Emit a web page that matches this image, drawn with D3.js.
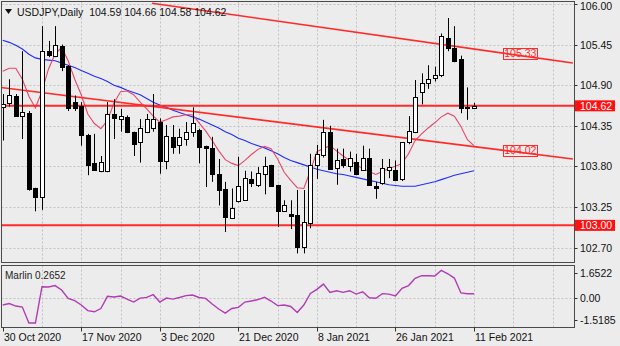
<!DOCTYPE html>
<html>
<head>
<meta charset="utf-8">
<script src="https://cdn.jsdelivr.net/npm/d3@7"></script>
<style>
  html, body { margin: 0; padding: 0; background: #ececec; }
  svg { display: block; font-family: "Liberation Sans", Arial, sans-serif; }
</style>
</head>
<body>
<svg id="chart" width="620" height="346"></svg>
<script>
// ---- USDJPY daily bars (30 Oct 2020 .. 11 Feb 2021), one entry per trading day ----
const symbolTitle = "USDJPY,Daily";
const lastQuote = [104.59, 104.66, 104.58, 104.62];

const open  = [104.61,104.66,104.75,104.48,104.52,103.50,103.39,105.36,105.30,105.43,
               105.16,104.67,104.62,104.22,103.85,103.73,103.73,104.51,104.44,104.47,
               104.27,104.13,104.27,104.32,104.40,103.87,104.20,104.09,104.17,104.27,
               104.29,104.07,104.05,103.70,103.49,103.10,103.33,103.34,103.63,103.55,
               103.70,103.82,103.55,103.19,103.15,103.14,102.71,103.03,103.82,103.95,
               104.26,103.78,103.90,103.81,103.86,103.75,103.91,103.54,103.57,103.75,
               103.75,103.63,104.13,104.26,104.81,104.93,105.00,105.04,105.54,105.40,
               105.25,104.61,104.59];
const high  = [104.78,104.98,104.78,105.36,104.55,103.51,105.70,105.50,105.70,105.45,
               105.17,104.76,104.67,104.24,104.24,103.94,104.67,104.71,104.58,104.49,
               104.27,104.44,104.51,104.78,104.45,104.36,104.36,104.31,104.40,104.60,
               104.31,104.08,104.20,103.90,103.59,103.50,103.93,103.74,103.73,103.79,
               103.93,103.82,103.55,103.34,103.34,103.48,103.48,103.97,104.09,104.43,
               104.35,104.04,104.04,104.00,103.97,104.08,104.04,103.59,103.90,103.90,
               103.88,104.13,104.48,104.97,105.06,105.17,105.15,105.60,105.81,105.70,
               105.30,104.87,104.66];
const low   = [104.15,104.61,104.47,104.17,103.47,103.19,103.21,105.28,105.28,105.09,
               104.55,104.55,104.08,103.68,103.74,103.72,103.72,104.17,104.27,104.25,
               103.94,103.85,104.25,104.27,103.70,103.76,103.97,103.97,104.08,104.20,
               103.84,103.52,103.59,103.27,102.91,103.10,103.31,103.34,103.52,103.52,
               103.42,103.53,102.98,103.18,102.95,102.62,102.62,102.96,103.63,103.92,
               103.75,103.55,103.78,103.73,103.68,103.74,103.54,103.36,103.55,103.64,
               103.60,103.60,104.10,104.25,104.64,104.85,104.95,105.01,105.36,105.21,
               104.52,104.43,104.58];
const close = [104.65,104.76,104.48,104.54,103.49,103.39,105.36,105.31,105.44,105.14,
               104.59,104.59,104.22,103.82,103.75,103.86,104.51,104.45,104.48,104.26,
               104.10,104.32,104.44,104.44,103.87,104.21,104.06,104.20,104.27,104.39,
               104.06,104.05,103.69,103.48,103.12,103.23,103.54,103.64,103.57,103.71,
               103.81,103.54,103.19,103.28,103.13,102.71,103.05,103.82,103.97,104.27,
               103.76,103.88,103.82,103.91,103.70,103.91,103.55,103.50,103.78,103.79,
               103.61,104.13,104.28,104.74,104.93,104.99,105.04,105.56,105.40,105.23,
               104.59,104.59,104.62];

// fast (red) and slow (blue) moving averages, one value per bar
const fastMA = [105.09,105.13,105.13,104.98,104.75,104.59,104.82,105.12,105.32,105.41,
                105.23,104.98,104.77,104.51,104.38,104.31,104.42,104.66,104.81,104.82,
                104.77,104.67,104.58,104.48,104.40,104.43,104.47,104.48,104.50,104.50,
                104.39,104.28,104.15,104.01,103.89,103.84,103.81,103.88,103.96,104.03,
                104.07,104.04,103.90,103.72,103.61,103.51,103.50,103.74,104.00,104.04,
                104.08,104.01,103.94,103.88,103.82,103.77,103.73,103.69,103.73,103.77,
                103.80,103.84,103.97,104.15,104.24,104.32,104.39,104.47,104.52,104.48,
                104.34,104.16,104.08];
const slowMA = [105.51,105.48,105.44,105.39,105.32,105.27,105.25,105.24,105.23,105.20,
                105.17,105.14,105.10,105.06,105.02,104.99,104.95,104.90,104.87,104.83,
                104.80,104.77,104.72,104.67,104.63,104.60,104.56,104.53,104.50,104.47,
                104.44,104.40,104.36,104.32,104.27,104.23,104.18,104.15,104.11,104.08,
                104.05,104.01,103.97,103.92,103.88,103.85,103.82,103.79,103.76,103.74,
                103.72,103.70,103.69,103.67,103.65,103.63,103.61,103.59,103.57,103.55,
                103.54,103.53,103.53,103.53,103.55,103.57,103.59,103.62,103.65,103.68,
                103.70,103.72,103.74];

// Marlin oscillator, one value per bar
const marlin = [-0.50,-0.40,-0.57,-0.64,-1.72,-1.72, 0.74, 0.72, 0.82, 0.52,
                -0.06,-0.20,-0.50,-0.88,-0.96,-0.74, 0.09, 0.04, 0.11,-0.10,
                -0.30,-0.03, 0.02, 0.20,-0.30,-0.03,-0.10, 0.01, 0.14, 0.18,
                 0.01,-0.05,-0.43,-0.77,-1.05,-0.74,-0.66,-0.30,-0.23,-0.13,
                 0.02,-0.23,-0.54,-0.50,-0.60,-1.01,-0.50, 0.28, 0.56, 0.92,
                 0.35, 0.47, 0.36, 0.47, 0.24, 0.40,-0.01,-0.04, 0.27, 0.24,
                 0.11, 0.63, 0.82, 1.31, 1.49, 1.49, 1.47, 1.85, 1.62, 1.33,
                 0.32, 0.26, 0.2652];
const marlinName = "Marlin";

// axis ticks
const priceTicks  = [106.00, 105.45, 104.90, 104.35, 103.80, 103.25, 102.70];
const marlinTicks = [1.6522, 0.00, -1.5185];
const dateLabels  = ["30 Oct 2020", "17 Nov 2020", "3 Dec 2020", "21 Dec 2020",
                     "8 Jan 2021", "26 Jan 2021", "11 Feb 2021"];
const dateBars    = [0, 12, 24, 36, 48, 60, 72];

// drawn objects: horizontal levels and trend lines (bar index, price)
const levels     = [104.62, 103.00];
const upperTrend = [[22.8, 106.01], [87.1, 105.20]];
const lowerTrend = [[-0.4, 104.87], [87.1, 103.90]];
const trendTags  = [{ value: 105.33, bar: 79.0 }, { value: 104.02, bar: 79.0 }];

// ---- layout ----
const W = 620, H = 346;
const main = { left: 1.5, right: 574.5, top: 1.5, bottom: 262.5 };
const sub  = { left: 1.5, right: 574.5, top: 265.5, bottom: 327.5 };
const gridStep = 6;

const RED = "#ff2a2a";
const svg = d3.select("#chart");
svg.append("rect").attr("width", W).attr("height", H).attr("fill", "#ececec");

const x  = d3.scaleLinear().domain([0, 72]).range([2.7, 474]);
const y  = d3.scaleLinear().domain([102.70, 106.00]).range([247.5, 4]);
const yi = d3.scaleLinear().domain([-1.5185, 1.6522]).range([320, 273.3]);
const lastBar = Math.floor(x.invert(main.right));

const defs = svg.append("defs");
defs.append("clipPath").attr("id", "clipMain").append("rect")
  .attr("x", main.left).attr("y", main.top)
  .attr("width", main.right - main.left).attr("height", main.bottom - main.top);
defs.append("clipPath").attr("id", "clipSub").append("rect")
  .attr("x", sub.left).attr("y", sub.top)
  .attr("width", sub.right - sub.left).attr("height", sub.bottom - sub.top);

const gridColor = "#c2c2c2";
const gridBars = d3.range(gridStep, lastBar + 1, gridStep);

// ---- main panel grid ----
const gMain = svg.append("g").attr("clip-path", "url(#clipMain)");
gMain.selectAll("line.hgrid").data(priceTicks).join("line")
  .attr("x1", main.left).attr("x2", main.right)
  .attr("y1", d => Math.round(y(d)) + 0.5).attr("y2", d => Math.round(y(d)) + 0.5)
  .attr("stroke", gridColor).attr("stroke-dasharray", "2,2");
gMain.selectAll("line.vgrid").data(gridBars).join("line")
  .attr("x1", d => Math.round(x(d)) + 0.5).attr("x2", d => Math.round(x(d)) + 0.5)
  .attr("y1", main.top).attr("y2", main.bottom)
  .attr("stroke", gridColor).attr("stroke-dasharray", "2,2");

// ---- moving averages ----
const maLine = d3.line().x((d, i) => x(i)).y(d => y(d));
gMain.append("path").attr("d", maLine(slowMA))
  .attr("fill", "none").attr("stroke", "#1f2dff").attr("stroke-width", 1.1);
gMain.append("path").attr("d", maLine(fastMA))
  .attr("fill", "none").attr("stroke", "#e8466a").attr("stroke-width", 1.1);

// ---- horizontal levels & trend lines ----
gMain.selectAll("line.level").data(levels).join("line")
  .attr("x1", main.left).attr("x2", main.right)
  .attr("y1", d => y(d)).attr("y2", d => y(d))
  .attr("stroke", RED).attr("stroke-width", 2);
[upperTrend, lowerTrend].forEach(t => {
  gMain.append("line")
    .attr("x1", x(t[0][0])).attr("y1", y(t[0][1]))
    .attr("x2", x(t[1][0])).attr("y2", y(t[1][1]))
    .attr("stroke", RED).attr("stroke-width", 1.6);
});

// ---- candles ----
const bars = d3.range(open.length);
const gC = gMain.append("g");
const cx = i => Math.round(x(i));
gC.selectAll("line.wick").data(bars).join("line")
  .attr("x1", i => cx(i) + 0.5).attr("x2", i => cx(i) + 0.5)
  .attr("y1", i => y(high[i])).attr("y2", i => y(low[i]))
  .attr("stroke", "#000").attr("stroke-width", 1);
gC.selectAll("rect.body").data(bars).join("rect")
  .attr("x", i => cx(i) - 1.5)
  .attr("width", 4)
  .attr("y", i => Math.round(y(Math.max(open[i], close[i]))) + 0.5)
  .attr("height", i => Math.max(0, Math.round(y(Math.min(open[i], close[i]))) - Math.round(y(Math.max(open[i], close[i])))))
  .attr("fill", i => close[i] >= open[i] ? "#ffffff" : "#000000")
  .attr("stroke", "#000").attr("stroke-width", 1);

// ---- trend line value tags ----
const tagW = 34, tagH = 11;
trendTags.forEach(t => {
  const tx = x(t.bar), ty = y(t.value);
  svg.append("rect").attr("x", Math.round(tx - tagW / 2) + 0.5).attr("y", Math.round(ty - tagH / 2) + 0.5)
    .attr("width", tagW).attr("height", tagH)
    .attr("fill", "none").attr("stroke", RED).attr("stroke-width", 1);
  svg.append("text").attr("x", tx + 0.5).attr("y", ty + 4)
    .attr("text-anchor", "middle").attr("font-size", 10.5).attr("fill", RED)
    .text(t.value.toFixed(2));
});

// ---- main panel frame and price axis ----
svg.append("rect").attr("x", main.left).attr("y", main.top)
  .attr("width", main.right - main.left).attr("height", main.bottom - main.top)
  .attr("fill", "none").attr("stroke", "#4a4a4a").attr("stroke-width", 1);
const gAx = svg.append("g");
gAx.selectAll("line").data(priceTicks).join("line")
  .attr("x1", main.right).attr("x2", main.right + 3)
  .attr("y1", d => Math.round(y(d)) + 0.5).attr("y2", d => Math.round(y(d)) + 0.5)
  .attr("stroke", "#333");
gAx.selectAll("text").data(priceTicks).join("text")
  .attr("x", 580).attr("y", d => Math.max(y(d) + 4, 10))
  .attr("font-size", 10.5).attr("fill", "#111")
  .text(d => d.toFixed(2));
levels.forEach(v => {
  svg.append("rect").attr("x", 575).attr("y", y(v) - 5.5).attr("width", 40).attr("height", 11)
    .attr("fill", "#ff1010");
  svg.append("text").attr("x", 580).attr("y", y(v) + 4)
    .attr("font-size", 10.5).attr("fill", "#ffffff").text(v.toFixed(2));
});

// ---- title ----
svg.append("path").attr("d", "M5,9 L12,9 L8.5,14 Z").attr("fill", "#111");
svg.append("text").attr("x", 17).attr("y", 16).attr("font-size", 10.5).attr("fill", "#111")
  .style("white-space", "pre")
  .text(symbolTitle + "  " + lastQuote.map(v => v.toFixed(2)).join(" "));

// ---- indicator panel ----
const gSub = svg.append("g").attr("clip-path", "url(#clipSub)");
gSub.selectAll("line.vgrid").data(gridBars).join("line")
  .attr("x1", d => Math.round(x(d)) + 0.5).attr("x2", d => Math.round(x(d)) + 0.5)
  .attr("y1", sub.top).attr("y2", sub.bottom)
  .attr("stroke", gridColor).attr("stroke-dasharray", "2,2");
gSub.append("line").attr("x1", sub.left).attr("x2", sub.right)
  .attr("y1", Math.round(yi(0)) + 0.5).attr("y2", Math.round(yi(0)) + 0.5)
  .attr("stroke", gridColor).attr("stroke-dasharray", "2,2");
gSub.append("path").attr("d", d3.line().x((d, i) => x(i)).y(d => yi(d))(marlin))
  .attr("fill", "none").attr("stroke", "#b23bb6").attr("stroke-width", 1.4);
svg.append("rect").attr("x", sub.left).attr("y", sub.top)
  .attr("width", sub.right - sub.left).attr("height", sub.bottom - sub.top)
  .attr("fill", "none").attr("stroke", "#4a4a4a").attr("stroke-width", 1);
svg.append("text").attr("x", 5).attr("y", 279).attr("font-size", 10).attr("fill", "#222")
  .text(marlinName + " " + marlin[marlin.length - 1].toFixed(4));
const gSubAx = svg.append("g");
gSubAx.selectAll("line").data(marlinTicks).join("line")
  .attr("x1", sub.right).attr("x2", sub.right + 3)
  .attr("y1", d => Math.round(yi(d)) + 0.5).attr("y2", d => Math.round(yi(d)) + 0.5)
  .attr("stroke", "#333");
gSubAx.selectAll("text").data(marlinTicks).join("text")
  .attr("x", 580).attr("y", d => yi(d) + 4)
  .attr("font-size", 10.5).attr("fill", "#111")
  .text(d => d === 0 ? "0.00" : d.toFixed(4));

// ---- time axis ----
const gT = svg.append("g");
gT.selectAll("line").data(dateBars).join("line")
  .attr("x1", d => Math.round(x(d)) + 0.5).attr("x2", d => Math.round(x(d)) + 0.5)
  .attr("y1", sub.bottom).attr("y2", sub.bottom + 4)
  .attr("stroke", "#333");
gT.selectAll("text").data(dateBars).join("text")
  .attr("x", d => Math.round(x(d)) + 1).attr("y", 341)
  .attr("font-size", 10.5).attr("fill", "#111")
  .text((d, i) => dateLabels[i]);
</script>
</body>
</html>
